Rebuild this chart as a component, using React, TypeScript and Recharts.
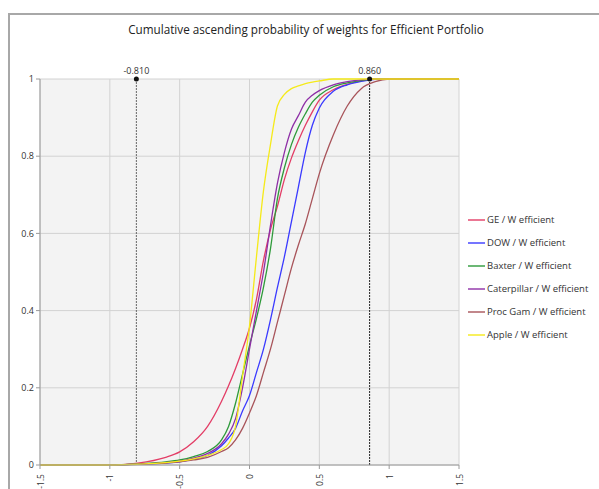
import React from "react";
import {
  LineChart,
  Line,
  XAxis,
  YAxis,
  CartesianGrid,
  ReferenceLine,
  ReferenceDot,
} from "recharts";

// weight values (x) where each cumulative curve was read
const weights = [
  -1.5, -1, -0.8, -0.6, -0.5, -0.4, -0.3, -0.2, -0.15, -0.1, -0.05, 0, 0.05,
  0.1, 0.15, 0.2, 0.25, 0.3, 0.35, 0.4, 0.45, 0.5, 0.6, 0.7, 0.8, 0.9, 1, 1.5,
];

const ge = [
  0, 0, 0.005, 0.02, 0.034, 0.06, 0.1, 0.165, 0.205, 0.25, 0.3, 0.355, 0.43,
  0.53, 0.61, 0.67, 0.74, 0.795, 0.84, 0.88, 0.915, 0.945, 0.972, 0.986, 0.995,
  1, 1, 1,
];
const dow = [
  0, 0, 0.002, 0.005, 0.008, 0.015, 0.025, 0.05, 0.07, 0.095, 0.14, 0.18, 0.24,
  0.3, 0.376, 0.46, 0.54, 0.63, 0.72, 0.81, 0.88, 0.925, 0.968, 0.985, 0.994,
  0.999, 1, 1,
];
const baxter = [
  0, 0, 0.003, 0.008, 0.013, 0.022, 0.035, 0.065, 0.1, 0.16, 0.235, 0.31, 0.38,
  0.46, 0.56, 0.69, 0.77, 0.83, 0.875, 0.91, 0.94, 0.958, 0.98, 0.99, 0.996, 1,
  1, 1,
];
const caterpillar = [
  0, 0, 0.002, 0.006, 0.01, 0.018, 0.03, 0.055, 0.08, 0.12, 0.2, 0.3, 0.4, 0.5,
  0.62, 0.73, 0.81, 0.87, 0.905, 0.94, 0.958, 0.97, 0.985, 0.993, 0.998, 1, 1,
  1,
];
const procGam = [
  0, 0, 0.002, 0.005, 0.008, 0.013, 0.02, 0.035, 0.045, 0.065, 0.095, 0.135,
  0.18, 0.24, 0.3, 0.37, 0.44, 0.51, 0.57, 0.625, 0.69, 0.755, 0.855, 0.93,
  0.975, 0.993, 1, 1,
];
const apple = [
  0, 0, 0.002, 0.006, 0.01, 0.016, 0.025, 0.04, 0.055, 0.1, 0.23, 0.36, 0.54,
  0.71, 0.83, 0.93, 0.96, 0.975, 0.982, 0.988, 0.992, 0.995, 1, 1, 1, 1, 1, 1,
];

const xTicks = [-1.5, -1, -0.5, 0, 0.5, 1, 1.5];
const yTicks = [0, 0.2, 0.4, 0.6, 0.8, 1];
const leftMarker = -0.81;
const rightMarker = 0.86;

const series = [
  { key: "ge", name: "GE / W efficient", color: "#e33d66", values: ge },
  { key: "dow", name: "DOW / W efficient", color: "#3a3aff", values: dow },
  { key: "baxter", name: "Baxter / W efficient", color: "#2e9a3a", values: baxter },
  { key: "caterpillar", name: "Caterpillar / W efficient", color: "#8e2fa6", values: caterpillar },
  { key: "procGam", name: "Proc Gam / W efficient", color: "#a8545a", values: procGam },
  { key: "apple", name: "Apple / W efficient", color: "#f5ea1a", values: apple },
];

const data = weights.map((w, i) => {
  const row: Record<string, number> = { w };
  series.forEach((s) => {
    row[s.key] = s.values[i];
  });
  return row;
});

const FONT = "'Open Sans', 'Noto Sans', sans-serif";

const fmtX = (v: number) => (v === 0 ? "0" : String(v));

// rotated tick labels, reading bottom to top like the original
const XTick = (props: any) => {
  const { x, y, payload } = props;
  const ty = y + 3;
  return (
    <text
      x={x}
      y={ty}
      transform={`rotate(-90 ${x} ${ty})`}
      textAnchor="end"
      dominantBaseline="central"
      fontSize={8.5}
      fill="#333"
      fontFamily={FONT}
    >
      {fmtX(payload.value)}
    </text>
  );
};

const LegendBox = () => (
  <div
    style={{
      position: "absolute",
      left: 468,
      top: 208,
      fontFamily: FONT,
      fontSize: 9.5,
      color: "#333",
    }}
  >
    {series.map((s) => (
      <div
        key={s.key}
        style={{ display: "flex", alignItems: "center", height: 23 }}
      >
        <span
          style={{
            display: "inline-block",
            width: 17,
            height: 2,
            background: s.color,
            opacity: 0.7,
            marginRight: 2,
          }}
        />
        <span>{s.name}</span>
      </div>
    ))}
  </div>
);

export default function App() {
  return (
    <div
      style={{
        position: "absolute",
        left: 0,
        top: 0,
        width: 599,
        height: 489,
        overflow: "hidden",
        background: "#fff",
      }}
    >
      <div
        style={{
          position: "absolute",
          left: 8,
          top: 13,
          width: 620,
          height: 520,
          border: "2px solid #a8a8a8",
        }}
      />
      <div
        style={{
          position: "absolute",
          left: 0,
          top: 21,
          width: 612,
          textAlign: "center",
          fontFamily: FONT,
          fontSize: 11.7,
          color: "#222",
        }}
      >
        Cumulative ascending probability of weights for Efficient Portfolio
      </div>
      <div style={{ position: "absolute", left: 0, top: 0 }}>
        <LineChart
          width={599}
          height={489}
          data={data}
          margin={{ top: 79, right: 140, bottom: 0, left: 0 }}
        >
          <CartesianGrid fill="#f3f3f3" stroke="#d2d2d2" />
          <XAxis
            dataKey="w"
            type="number"
            domain={[-1.5, 1.5]}
            ticks={xTicks}
            interval={0}
            height={24}
            stroke="#9a9a9a"
            tickSize={4}
            tick={<XTick />}
          />
          <YAxis
            type="number"
            domain={[0, 1]}
            ticks={yTicks}
            interval={0}
            width={40}
            stroke="#9a9a9a"
            tickSize={4}
            tick={{ fontSize: 9, fill: "#333", fontFamily: FONT }}
          />
          <ReferenceLine
            x={leftMarker}
            stroke="#666"
            strokeDasharray="2 1"
            label={{
              value: "-0.810",
              position: "top",
              fontSize: 9,
              fill: "#333",
              fontFamily: FONT,
            }}
          />
          <ReferenceLine
            x={rightMarker}
            stroke="#222"
            strokeDasharray="2 1"
            label={{
              value: "0.860",
              position: "top",
              fontSize: 9,
              fill: "#333",
              fontFamily: FONT,
            }}
          />
          {series.map((s) => (
            <Line
              key={s.key}
              type="monotone"
              dataKey={s.key}
              name={s.name}
              stroke={s.color}
              strokeWidth={1.3}
              dot={false}
              isAnimationActive={false}
            />
          ))}
          <ReferenceDot x={leftMarker} y={1} r={2.5} fill="#111" stroke="none" />
          <ReferenceDot x={rightMarker} y={1} r={2.5} fill="#111" stroke="none" />
        </LineChart>
      </div>
      <LegendBox />
    </div>
  );
}
